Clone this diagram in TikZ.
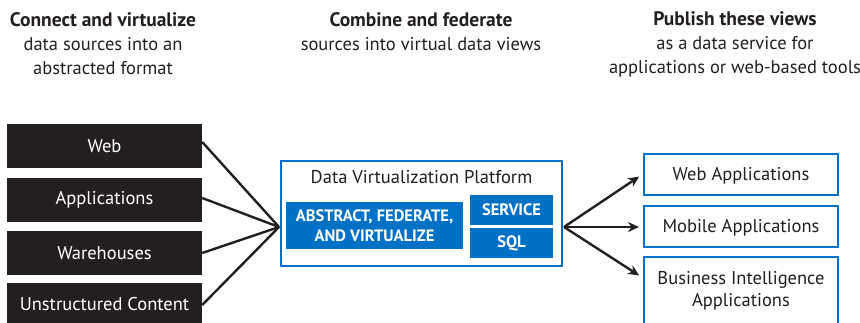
\documentclass[tikz,border=0pt]{standalone}
\usepackage{fontspec}
\setmainfont{PT Sans}
\usetikzlibrary{arrows.meta,calc}
\definecolor{ink}{HTML}{231F20}
\definecolor{iblue}{HTML}{0071C5}
\tikzset{
  srcbox/.style={fill=ink, text=white, font=\fontsize{18.5}{20}\selectfont,
    minimum width=195pt, minimum height=44pt, inner sep=0pt},
  outbox/.style={draw=iblue, line width=2pt, fill=white, text=ink,
    font=\fontsize{18.5}{22}\selectfont, align=center,
    minimum width=194pt, minimum height=41pt, inner sep=0pt,
    text height=14pt, text depth=1.5pt},
  bluebox/.style={fill=iblue, text=white, font=\bfseries\fontsize{16.5}{20}\selectfont,
    align=center, inner sep=0pt},
  wire/.style={draw=ink, line width=2.4pt},
  arr/.style={wire, -{Stealth[length=11pt,width=10pt]}, shorten >=1pt},
  head/.style={text=ink, align=center, font=\fontsize{18.5}{24}\selectfont},
}
\begin{document}
\begin{tikzpicture}[x=1pt,y=-1pt]
\useasboundingbox (0,0) rectangle (860,322);
\clip (0,0) rectangle (860,322);

% column headings
\node[head] (h1) at (103,44) {{\bfseries\fontsize{19.5}{24}\selectfont Connect and virtualize}\\data sources into an\\abstracted format};
\node[head] (h2) at (421,32) {{\bfseries\fontsize{19.5}{24}\selectfont Combine and federate}\\sources into virtual data views};
\node[head] (h3) at (735,44) {{\bfseries\fontsize{19.5}{24}\selectfont Publish these views}\\as a data service for\\applications or web-based tools};

% data sources
\node[srcbox] (web)  at (104.5,146) {Web};
\node[srcbox] (apps) at (104.5,200) {Applications};
\node[srcbox] (wh)   at (104.5,253) {Warehouses};
\node[srcbox, minimum height=46pt] (unst) at (104.5,306) {};
\node[text=white, font=\fontsize{18.5}{20}\selectfont] (unstT) at (104.5,304) {Unstructured Content};

% platform
\node[draw=iblue, line width=2pt, fill=white, minimum width=281pt, minimum height=105pt, inner sep=0pt] (plat) at (421.5,213.5) {};
\node[text=ink, font=\fontsize{18.5}{20}\selectfont] (title) at (421.5,177) {Data Virtualization Platform};
\node[bluebox, minimum width=177pt, minimum height=47pt] (abs) at (374.5,225.5) {ABSTRACT, FEDERATE,\\AND VIRTUALIZE};
\node[bluebox, minimum width=83pt, minimum height=30pt] (svc) at (511.5,210) {SERVICE};
\node[bluebox, minimum width=83pt, minimum height=30pt] (sql) at (511.5,243) {SQL};
\coordinate (inL) at ($(plat.west)+(-1,13.5)$);
\coordinate (outR) at ($(plat.east)+(1,13.5)$);

% consumers
\node[outbox] (wapp) at (741,174.5) {Web Applications};
\node[outbox] (mapp) at (741,226.5) {Mobile Applications};
\node[outbox, minimum height=70pt, text height=0pt, text depth=0pt] (bi) at (741,292) {};
\node[text=ink, align=center, font=\fontsize{18.5}{22}\selectfont] (biT) at (741,291) {Business Intelligence\\Applications};
\coordinate (wappL) at ($(wapp.west)+(-3,1.5)$);
\coordinate (mappL) at ($(mapp.west)+(-3,0.5)$);
\coordinate (biL) at ($(bi.west)+(-3,-16)$);

% connectors
\draw[wire] (web.east) ++(0,-4) -- (inL);
\draw[wire] (apps.east) ++(0,-2) -- (inL);
\draw[wire] (wh.east) -- (inL);
\draw[wire] (unst.east) ++(0,-1) -- (inL);
\foreach \t in {wappL,mappL,biL} \draw[arr] (outR) -- (\t);
\end{tikzpicture}
\end{document}
